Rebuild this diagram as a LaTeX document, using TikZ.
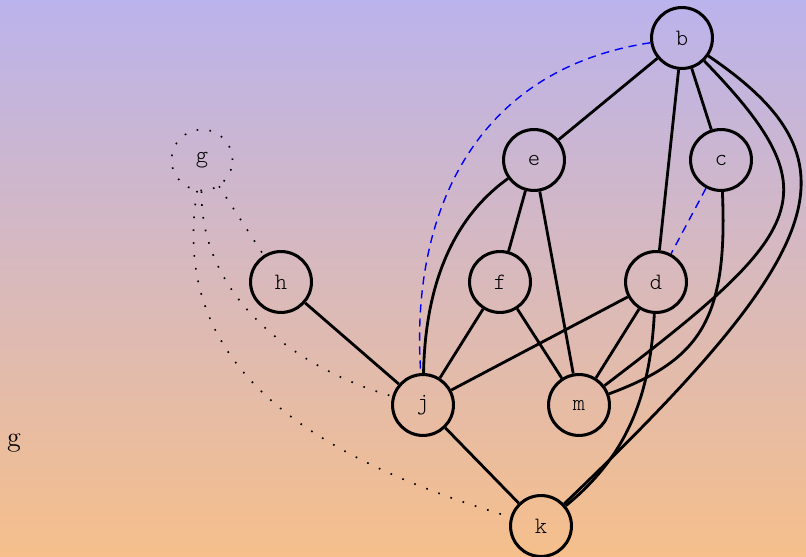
\documentclass[tikz,border=0pt]{standalone}
\definecolor{topviolet}{RGB}{187,179,236}
\definecolor{bottomorange}{RGB}{246,191,139}
\begin{document}
\begin{tikzpicture}[x=0.015cm,y=-0.015cm,
    vertex/.style={circle,draw,line width=1.3pt,minimum size=26pt,inner sep=0pt,font=\ttfamily\fontseries{l}\selectfont},
    edge/.style={line width=1.2pt},
    hint/.style={blue,dash pattern=on 3.5pt off 2.5pt,line width=0.6pt},
    ghost/.style={dash pattern=on 0.7pt off 4.8pt,line width=0.7pt}]
  \useasboundingbox (0,0) rectangle (806,557);
  \shade[top color=topviolet,bottom color=bottomorange] (0,0) rectangle (806,557);
  % vertices
  \node[vertex] (b) at (682,38) {b};
  \node[vertex] (e) at (534,160) {e};
  \node[vertex] (c) at (721,160) {c};
  \node[vertex,ghost] (g) at (202,160) {g};
  \node[vertex] (h) at (281,282) {h};
  \node[vertex] (f) at (500,282) {f};
  \node[vertex] (d) at (656,282) {d};
  \node[vertex] (j) at (423,405) {j};
  \node[vertex] (m) at (579,405) {m};
  \node[vertex] (k) at (541,526) {k};
  \node[font=\large,inner sep=0pt] (gname) at (14,443) {g};
  % edges
  \draw[edge] (b) -- (e);
  \draw[edge] (b) -- (c);
  \draw[edge] (b) -- (d);
  \draw[edge] (b) .. controls (833,194) and (809,230) .. (m);
  \draw[edge] (b) .. controls (860,159) and (835,245) .. (k);
  \draw[edge] (e) -- (f);
  \draw[edge] (e) -- (m);
  \draw[edge] (e) .. controls (450,220) and (425,290) .. (j);
  \draw[edge] (c) .. controls (728,320) and (700,360) .. (m);
  \draw[edge] (h) -- (j);
  \draw[edge] (f) -- (j);
  \draw[edge] (f) -- (m);
  \draw[edge] (d) -- (j);
  \draw[edge] (d) -- (m);
  \draw[edge] (d) .. controls (650,395) and (628,455) .. (k);
  \draw[edge] (j) -- (k);
  % hints
  \draw[hint] (b) .. controls (470,70) and (410,220) .. (j);
  \draw[hint] (c) -- (d);
  % ghost links
  \draw[ghost] (g) -- (h);
  \draw[ghost] (g) .. controls (200,300) and (300,370) .. (j);
  \draw[ghost] (g) .. controls (175,330) and (250,440) .. (k);
\end{tikzpicture}
\end{document}
